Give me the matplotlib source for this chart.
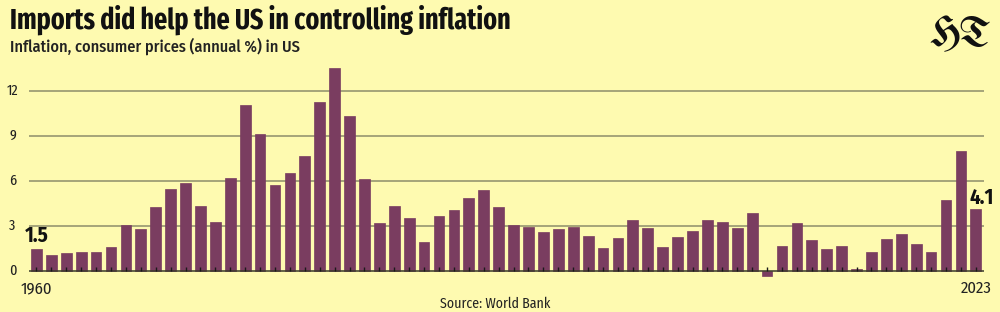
import matplotlib
matplotlib.use("Agg")
import matplotlib.pyplot as plt
import numpy as np

years = list(range(1960, 2024))
inflation = [1.46, 1.07, 1.20, 1.24, 1.28, 1.59, 3.02, 2.77, 4.27, 5.46,
             5.84, 4.29, 3.27, 6.18, 11.05, 9.14, 5.74, 6.50, 7.63, 11.25,
             13.55, 10.33, 6.13, 3.21, 4.30, 3.55, 1.90, 3.66, 4.08, 4.83,
             5.40, 4.23, 3.03, 2.95, 2.61, 2.81, 2.93, 2.34, 1.55, 2.19,
             3.38, 2.83, 1.59, 2.27, 2.68, 3.39, 3.23, 2.85, 3.84, -0.36,
             1.64, 3.16, 2.07, 1.46, 1.62, 0.12, 1.26, 2.13, 2.44, 1.81,
             1.23, 4.70, 8.00, 4.12]
yticks = [0, 3, 6, 9, 12]
title = "Imports did help the US in controlling inflation"
subtitle = "Inflation, consumer prices (annual %) in US"
source = "Source: World Bank"

BG = "#fefab0"
BAR = "#7a3d60"
GRID = "#8d8d6a"
COND = ['Fira Sans Condensed', 'DejaVu Sans']
XCOND = ['Fira Sans Extra Condensed', 'DejaVu Sans']

fig = plt.figure(figsize=(10, 3.12), dpi=100, facecolor=BG)
ax = fig.add_axes([0.029, 0.0843, 0.955, 0.720])
ax.set_facecolor(BG)

x = np.arange(len(years))
ax.bar(x, inflation, width=0.72, color=BAR, edgecolor=BAR, linewidth=0.5, zorder=3)

ax.set_xlim(-0.5, 63.55)
ax.set_ylim(-1, 14)
for t in yticks[1:]:
    ax.axhline(t, color=GRID, linewidth=1.1, zorder=1)
ax.axhline(0, color="#3a3a2a", linewidth=1.1, zorder=4)

for s in ax.spines.values():
    s.set_visible(False)
ax.set_xticks([])
ax.set_yticks([])

# small upward ticks at each bar
ax.vlines(x, 0, 0.27, color="#1a1a1a", linewidth=1.0, zorder=5)

for t in yticks:
    fig.text(0.0125, 1 - (270.7 - t * 14.97) / 312, str(t),
             ha='center', va='center', fontsize=11, family=XCOND, color="#222222")

ax.text(x[0], -1.2, str(years[0]), ha='center', va='center', fontsize=12, family=COND, color="#222222")
ax.text(x[-1], -1.2, str(years[-1]), ha='center', va='center', fontsize=12, family=COND, color="#222222")

ax.text(x[0], inflation[0] + 0.45, f"{inflation[0]:.1f}", ha='center', va='baseline',
        fontsize=15, fontweight='bold', family=COND, color="#111111")
ax.text(x[-1] + 0.4, inflation[-1] + 0.33, f"{inflation[-1]:.1f}", ha='center', va='baseline',
        fontsize=15, fontweight='bold', family=COND, color="#111111")

fig.text(0.010, 0.910, title, ha='left', va='baseline', fontsize=20.3, fontweight='bold',
         family=XCOND, color="#111111")
fig.text(0.010, 0.833, subtitle, ha='left', va='baseline', fontsize=11.7, fontweight='medium',
         family=COND, color="#222222")
fig.text(0.495, 0.012, source, ha='center', va='baseline', fontsize=10, family=COND, color="#222222")
fig.text(0.960, 0.856, "HT", ha='center', va='baseline', fontsize=30,
         family=['UnifrakturMaguntia', 'DejaVu Serif'], color="#111111")

fig.savefig("out.png", dpi=100, facecolor=BG)
